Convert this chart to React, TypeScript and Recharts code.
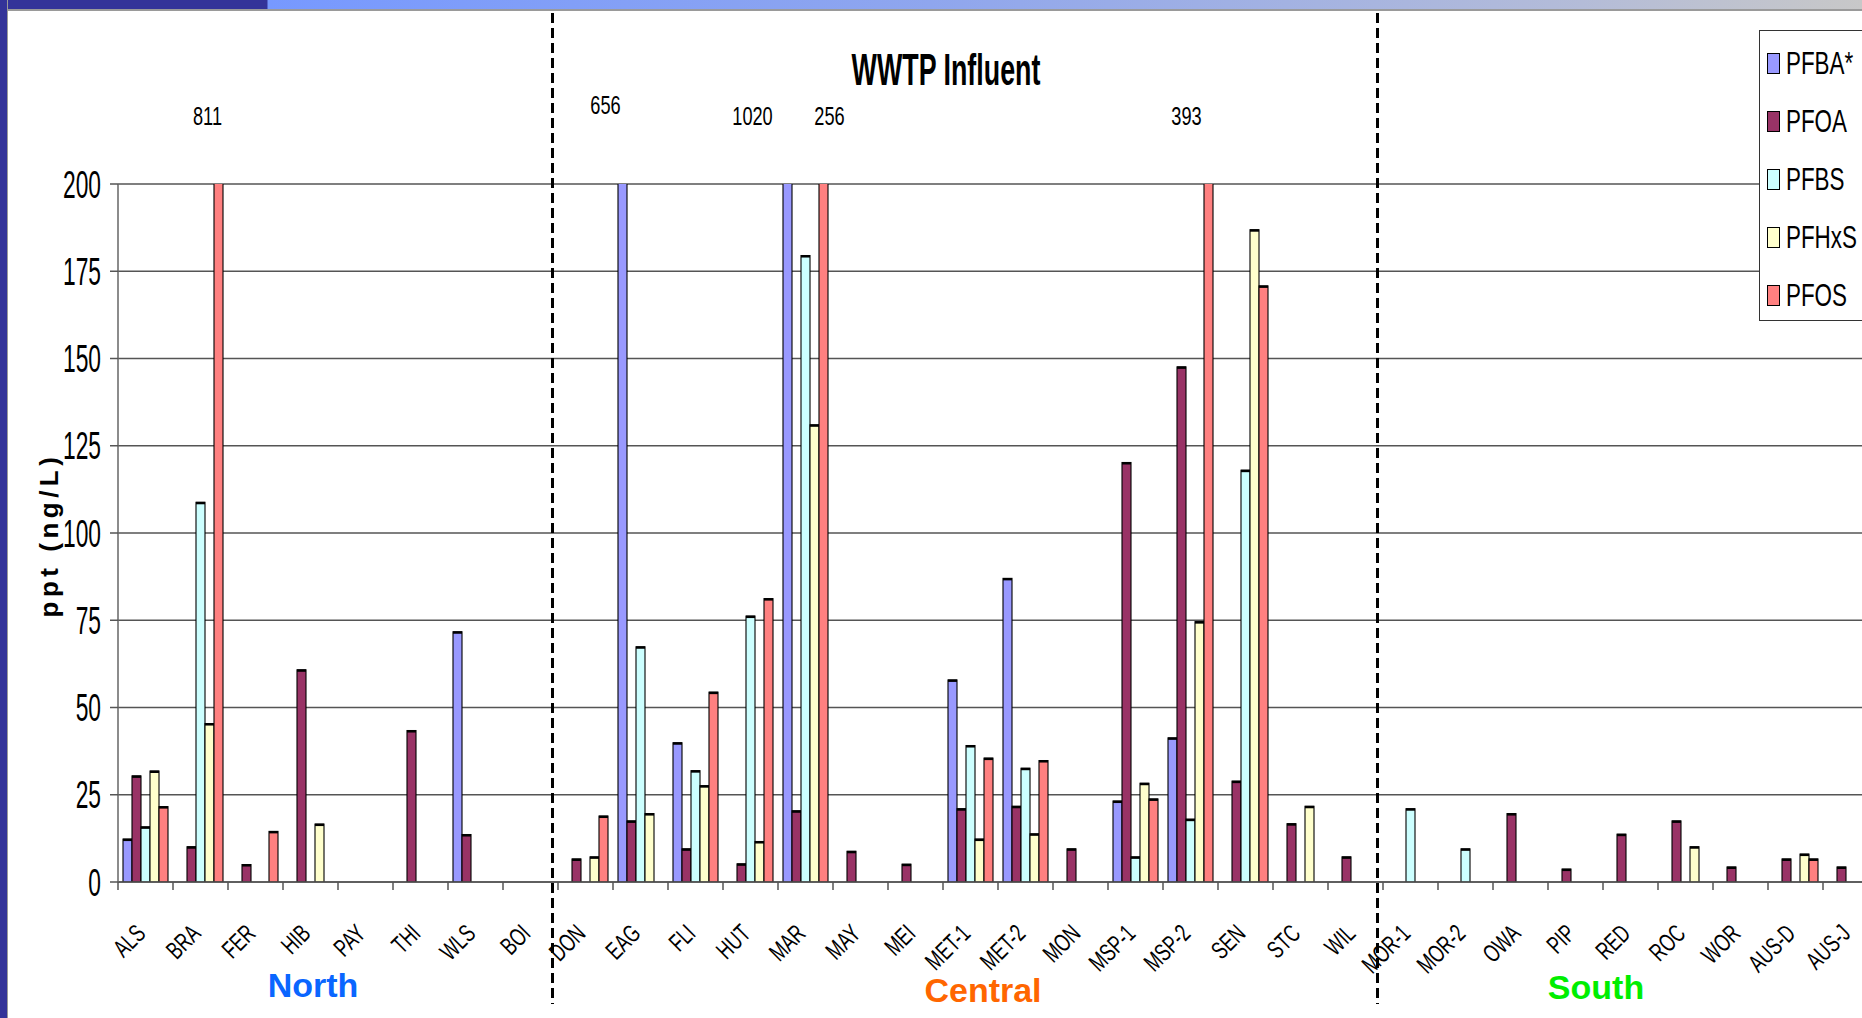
import React from 'react';
import { BarChart, Bar, XAxis, YAxis, CartesianGrid, Legend, LabelList } from 'recharts';

// ---------------- data ----------------
const categories = [
  'ALS', 'BRA', 'FER', 'HIB', 'PAY', 'THI', 'WLS', 'BOI',
  'DON', 'EAG', 'FLI', 'HUT', 'MAR', 'MAY', 'MEI', 'MET-1', 'MET-2', 'MON', 'MSP-1', 'MSP-2', 'SEN', 'STC', 'WIL',
  'MOR-1', 'MOR-2', 'OWA', 'PIP', 'RED', 'ROC', 'WOR', 'AUS-D', 'AUS-J',
];

const seriesNames = ['PFBA*', 'PFOA', 'PFBS', 'PFHxS', 'PFOS'];

const pfba = [12.3, 0, 0, 0, 0, 0, 71.7, 0, 0, 656, 39.9, 0, 1020, 0, 0, 57.9, 87, 0, 23.2, 41.3, 0, 0, 0, 0, 0, 0, 0, 0, 0, 0, 0, 0];
const pfoa = [30.4, 10.1, 5.0, 60.8, 0, 43.4, 13.6, 0, 6.6, 17.5, 9.5, 5.2, 20.4, 8.8, 5.1, 21.0, 21.7, 9.5, 120.2, 147.6, 28.9, 16.7, 7.2, 0, 0, 19.6, 3.7, 13.7, 17.5, 4.3, 6.6, 4.3];
const pfbs = [15.8, 108.8, 0, 0, 0, 0, 0, 0, 0, 67.4, 31.9, 76.2, 179.5, 0, 0, 39.1, 32.6, 0, 7.2, 18.0, 118, 0, 0, 21.0, 9.5, 0, 0, 0, 0, 0, 0, 0];
const pfhxs = [31.8, 45.4, 0, 16.6, 0, 0, 0, 0, 7.2, 19.6, 27.6, 11.6, 131, 0, 0, 12.3, 13.8, 0, 28.3, 74.6, 186.9, 21.7, 0, 0, 0, 0, 0, 0, 10.1, 0, 8.0, 0];
const pfos = [21.6, 811, 14.5, 0, 0, 0, 0, 0, 18.9, 0, 54.4, 81.2, 256, 0, 0, 35.5, 34.8, 0, 23.8, 393, 170.8, 0, 0, 0, 0, 0, 0, 0, 0, 0, 6.6, 0];

const yTicks = [0, 25, 50, 75, 100, 125, 150, 175, 200];
const regionNames = ['North', 'Central', 'South'];
const regionSizes = [8, 15, 9];
const chartTitle = 'WWTP Influent';
const yAxisTitle = 'ppt (ng/L)';

// ---------------- styles / layout ----------------
const SERIES_COLORS = ['#9999FF', '#993366', '#CCFFFF', '#FFFFCC', '#FF8080'];
const REGION_COLORS = ['#0A66FF', '#FF6600', '#00EE00'];
const SANS = "'Liberation Sans', Arial, Helvetica, sans-serif";

const VIEW_W = 1862;
const VIEW_H = 1018;
const CHART_W = 1900;
const PLOT_LEFT = 118;
const PLOT_RIGHT = 1878;
const PLOT_TOP = 184;
const PLOT_BOTTOM = 882;
const BAND = (PLOT_RIGHT - PLOT_LEFT) / categories.length;
const Y_MAX = 200;

// manual placement tweaks of the "off-scale" value labels (dx, dy relative to bar centre / label row)
const overflowShift: Record<string, [number, number]> = {
  'BRA|4': [-11, 0],
  'EAG|0': [-17, -11],
  'MAR|0': [-35, 0],
  'MAR|4': [6, 0],
  'MSP-2|4': [-22, 0],
};
const regionLabelX = [313, 983, 1596];
const regionLabelY = [997, 1002, 999];

const seriesArrays = [pfba, pfoa, pfbs, pfhxs, pfos];
const data = categories.map((c, i) => {
  const row: Record<string, any> = { name: c };
  seriesArrays.forEach((arr, s) => {
    row['s' + s] = arr[i];
  });
  return row;
});

// ---------------- components ----------------
const BarShape = (props: any) => {
  const { x, y, width, height, fill } = props;
  if (!height || height <= 0 || !width) return null;
  return (
    <g>
      <rect x={x} y={y} width={width} height={height} fill={fill} stroke="#000" strokeWidth={1.1} />
      <line x1={x} x2={x + width} y1={y + 0.8} y2={y + 0.8} stroke="#000" strokeWidth={2.4} />
    </g>
  );
};

const XTick = (props: any) => {
  const { x, payload } = props;
  const bx = x - BAND / 2;
  return (
    <g>
      <line x1={bx} x2={bx} y1={PLOT_BOTTOM} y2={PLOT_BOTTOM + 8} stroke="#555" strokeWidth={1.5} />
      <g transform={`translate(${x + 1.5},${PLOT_BOTTOM + 53}) rotate(-45) scale(0.7,1)`}>
        <text x={0} y={0} textAnchor="end" fontSize={25} fontFamily={SANS} fill="#000">
          {payload.value}
        </text>
      </g>
    </g>
  );
};

const YTick = (props: any) => {
  const { x, y, payload } = props;
  return (
    <g transform={`translate(${x},${y}) scale(0.6,1)`}>
      <text x={0} y={0} dy={13.5} textAnchor="end" fontSize={38} fontFamily={SANS} fill="#000">
        {payload.value}
      </text>
    </g>
  );
};

const makeOverflowLabel = (seriesIdx: number) => (props: any) => {
  const { value } = props;
  if (value == null || value <= Y_MAX) return null;
  let index = props.index;
  if (index == null) index = seriesArrays[seriesIdx].indexOf(value);
  const vb = props.viewBox && props.viewBox.x != null ? props.viewBox : props;
  const cx = vb.x + vb.width / 2;
  const [dx, dy] = overflowShift[`${categories[index]}|${seriesIdx}`] || [0, 0];
  return (
    <g key={`ov-${seriesIdx}-${index}`} transform={`translate(${cx + dx},${125 + dy}) scale(0.7,1)`}>
      <text x={0} y={0} textAnchor="middle" fontSize={26} fontFamily={SANS} fill="#000">
        {value}
      </text>
    </g>
  );
};

const LegendContent = (props: any) => {
  const payload = [...(props.payload || [])].sort(
    (a: any, b: any) => seriesNames.indexOf(a.value) - seriesNames.indexOf(b.value)
  );
  return (
    <div
      style={{
        width: 130,
        height: 291,
        border: '1px solid #333',
        background: '#fff',
        boxSizing: 'border-box',
        position: 'relative',
      }}
    >
      {payload.map((p: any, i: number) => (
        <div
          key={p.value}
          style={{
            position: 'absolute',
            left: 7,
            top: 21 + i * 58,
            height: 22,
            display: 'flex',
            alignItems: 'center',
          }}
        >
          <div
            style={{
              width: 13,
              height: 21,
              background: p.color,
              border: '1.5px solid #000',
              boxSizing: 'border-box',
              flex: 'none',
            }}
          />
          <span
            style={{
              marginLeft: 6,
              fontSize: 32,
              lineHeight: '22px',
              fontFamily: SANS,
              color: '#000',
              whiteSpace: 'nowrap',
              display: 'inline-block',
              transform: 'scaleX(0.7)',
              transformOrigin: 'left center',
            }}
          >
            {p.value}
          </span>
        </div>
      ))}
    </div>
  );
};

export default function App() {
  // region boundaries (dashed separators)
  const starts: number[] = [];
  let acc = 0;
  regionSizes.forEach((n) => {
    starts.push(acc);
    acc += n;
  });
  const separators = starts.slice(1).map((s) => PLOT_LEFT + s * BAND - 5.5);

  return (
    <div
      style={{
        position: 'absolute',
        left: 0,
        top: 0,
        width: VIEW_W,
        height: VIEW_H,
        overflow: 'hidden',
        background: '#fff',
      }}
    >
      <div style={{ position: 'absolute', left: 0, top: 0 }}>
        <BarChart
          width={CHART_W}
          height={VIEW_H}
          data={data}
          margin={{ top: PLOT_TOP, right: CHART_W - PLOT_RIGHT, bottom: 0, left: 0 }}
          barCategoryGap={5}
          barGap={0}
        >
          <CartesianGrid vertical={false} stroke="#555" strokeWidth={1.5} />
          <XAxis
            dataKey="name"
            interval={0}
            height={VIEW_H - PLOT_BOTTOM}
            tickSize={8}
            tickMargin={0}
            tickLine={false}
            axisLine={{ stroke: '#555', strokeWidth: 1.5 }}
            tick={<XTick />}
          />
          <YAxis
            domain={[0, Y_MAX]}
            ticks={yTicks}
            allowDataOverflow
            width={PLOT_LEFT}
            tickSize={8}
            tickMargin={9}
            axisLine={{ stroke: '#666', strokeWidth: 1.5 }}
            tickLine={{ stroke: '#555', strokeWidth: 1.5 }}
            tick={<YTick />}
          />
          <Legend
            layout="vertical"
            align="center"
            verticalAlign="middle"
            content={<LegendContent />}
            wrapperStyle={{ position: 'absolute', left: 1759, top: 30, width: 130, height: 291 }}
          />
          {seriesNames.map((name, s) => (
            <Bar
              key={name}
              dataKey={'s' + s}
              name={name}
              fill={SERIES_COLORS[s]}
              isAnimationActive={false}
              shape={<BarShape />}
            >
              <LabelList dataKey={'s' + s} content={makeOverflowLabel(s)} />
            </Bar>
          ))}
        </BarChart>
      </div>

      {/* overlay: title, axis title, region labels, dashed separators */}
      <svg
        width={VIEW_W}
        height={VIEW_H}
        style={{ position: 'absolute', left: 0, top: 0, pointerEvents: 'none' }}
      >
        <g transform="translate(946,85) scale(0.61,1)">
          <text x={0} y={0} textAnchor="middle" fontSize={44} fontWeight="bold" fontFamily={SANS} fill="#000">
            {chartTitle}
          </text>
        </g>
        <g transform={`translate(58,${(PLOT_TOP + PLOT_BOTTOM) / 2 + 2}) rotate(-90)`}>
          <text x={0} y={0} textAnchor="middle" fontSize={26} fontWeight="bold" letterSpacing={4.5} fontFamily={SANS} fill="#000">
            {yAxisTitle}
          </text>
        </g>
        {regionNames.map((r, i) => (
          <text
            key={r}
            x={regionLabelX[i]}
            y={regionLabelY[i]}
            textAnchor="middle"
            fontSize={34}
            fontWeight="bold"
            fontFamily={SANS}
            fill={REGION_COLORS[i]}
          >
            {r}
          </text>
        ))}
        {separators.map((sx, i) => (
          <line key={i} x1={sx} x2={sx} y1={13} y2={1004} stroke="#000" strokeWidth={3} strokeDasharray="10 5" />
        ))}
      </svg>

      {/* slide decoration */}
      <div
        style={{
          position: 'absolute',
          left: 0,
          top: 0,
          width: VIEW_W,
          height: 9,
          background: 'linear-gradient(to right, #333399 0px, #333399 267px, #7799FF 268px, #8FA6EE 50%, #B4BCD8 85%, #C8C8C8 100%)',
          borderBottom: '2px solid #9a9a9a',
        }}
      />
      <div
        style={{
          position: 'absolute',
          left: 0,
          top: 0,
          width: 7,
          height: VIEW_H,
          background: '#333399',
          borderRight: '1px solid #9a9a9a',
        }}
      />
    </div>
  );
}
